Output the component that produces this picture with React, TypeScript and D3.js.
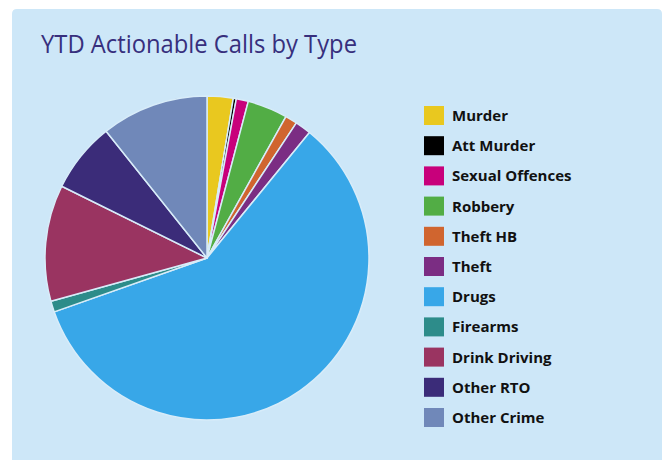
import React from "react";
import * as d3 from "d3";

const categories = ["Murder", "Att Murder", "Sexual Offences", "Robbery", "Theft HB", "Theft", "Drugs", "Firearms", "Drink Driving", "Other RTO", "Other Crime"];
const values = [2.6, 0.3, 1.2, 4.0, 1.2, 1.6, 58.7, 1.1, 11.6, 7.0, 10.7];
const colors = ["#e9c81f", "#000000", "#c8007b", "#52ad45", "#d0652f", "#7b2d83", "#38a7e8", "#2d8c8a", "#9a3461", "#3b2c79", "#7088b9"];
const title = "YTD Actionable Calls by Type";

export default function App() {
  const W = 664, H = 460;
  const cx = 207, cy = 258, r = 162;
  const pie = d3.pie<number>().sort(null).value((d) => d)(values);
  const arc = d3.arc<d3.PieArcDatum<number>>().innerRadius(0).outerRadius(r);
  const legendY = d3.scalePoint<string>().domain(categories).range([106, 408]);
  return (
    <svg width={W} height={H} style={{ position: "absolute", left: 0, top: 0 }}>
      <rect x={0} y={0} width={W} height={H} fill="#ffffff" />
      <path d={`M12,${H + 10} L12,14 Q12,9 17,9 L657,9 Q662,9 662,14 L662,${H + 10} Z`} fill="#cde7f8" />
      <text x={41} y={53} fontFamily="'Open Sans', sans-serif" fontSize={25.5} fill="#372f7d" textLength={316} lengthAdjust="spacingAndGlyphs">{title}</text>
      <g transform={`translate(${cx},${cy})`}>
        {pie.map((p, i) => (
          <path key={i} d={arc(p) || ""} fill={colors[i]} stroke="#d8ecf9" strokeWidth={1.5} strokeLinejoin="round" />
        ))}
      </g>
      {categories.map((c, i) => (
        <g key={c} transform={`translate(424,${legendY(c)})`}>
          <rect x={0} y={0} width={20} height={19} fill={colors[i]} />
          <text x={28} y={15} fontFamily="'Open Sans', sans-serif" fontWeight="bold" fontSize={15} fill="#111">{c}</text>
        </g>
      ))}
    </svg>
  );
}
